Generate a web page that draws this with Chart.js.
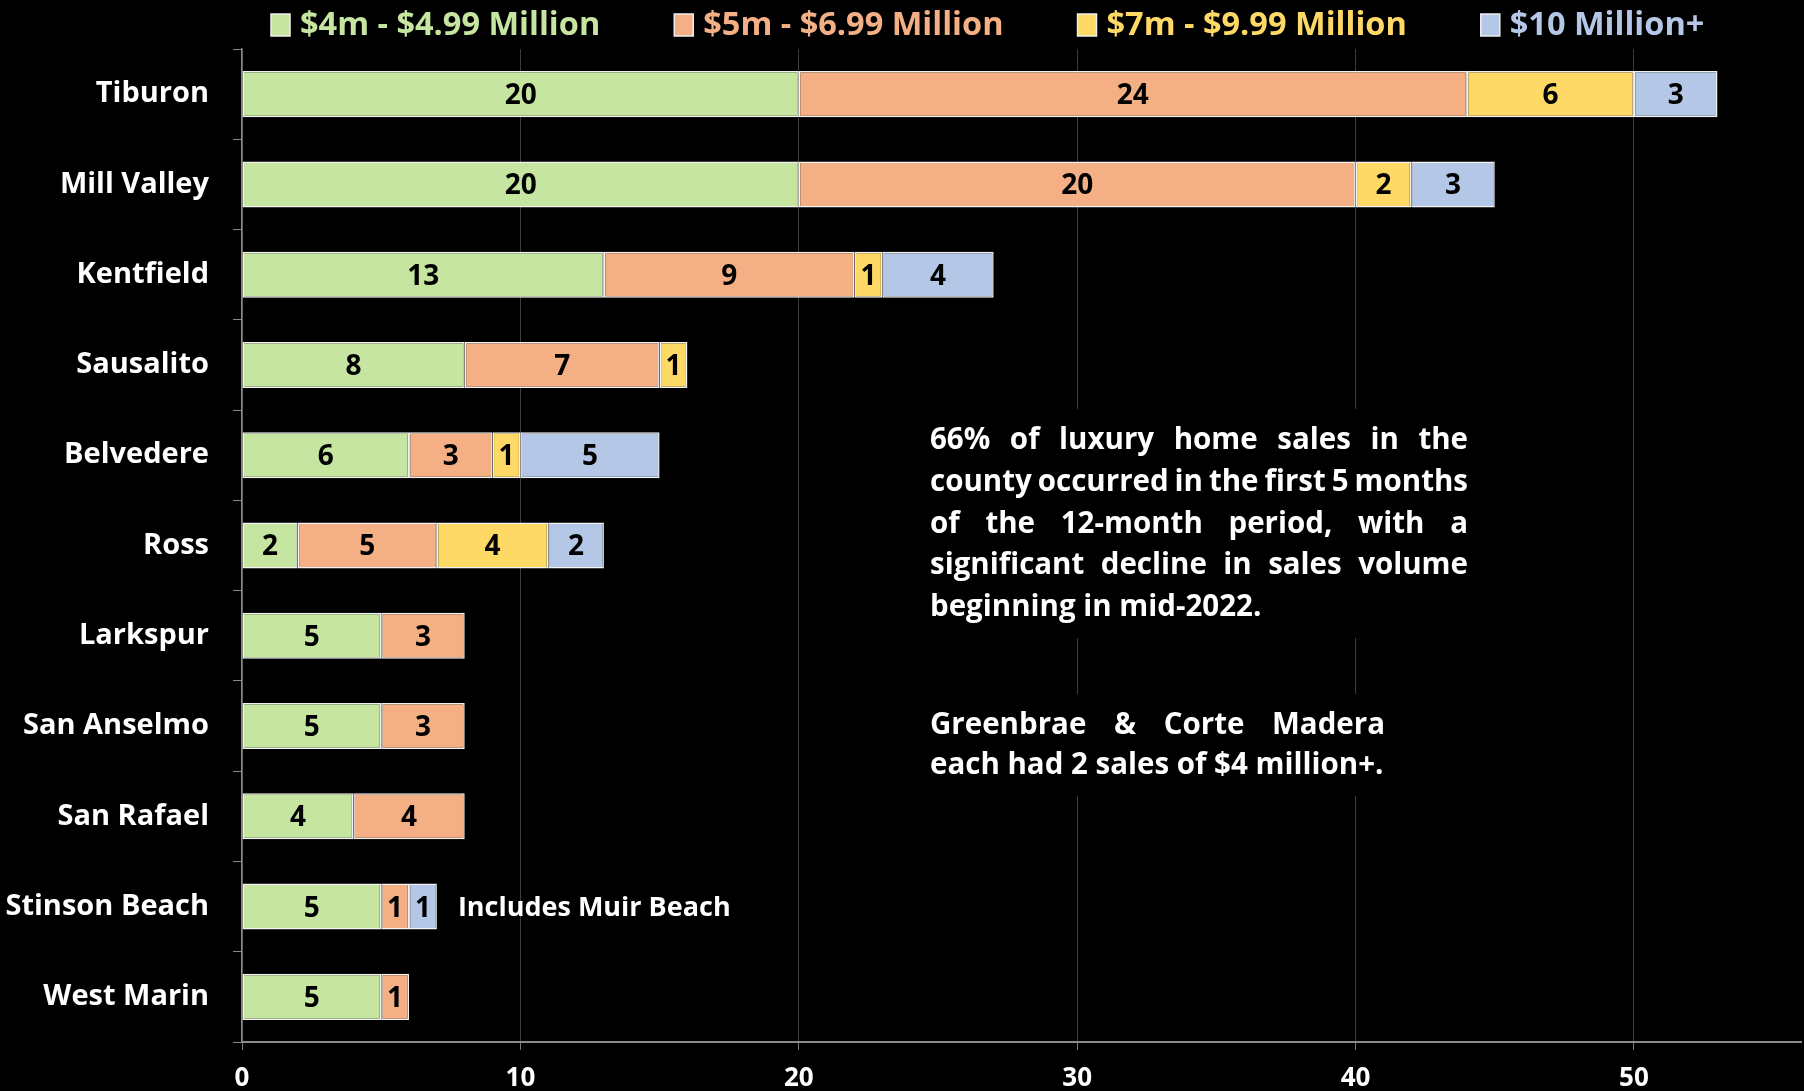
<!DOCTYPE html>
<html>
<head>
<meta charset="utf-8">
<script src="https://cdn.jsdelivr.net/npm/chart.js@4.4.0/dist/chart.umd.min.js"></script>
<style>
    html, body { margin: 0; padding: 0; background: #000; }
</style>
</head>
<body>
<canvas id="myChart" width="1804" height="1091"></canvas>
<script>
const towns = ['Tiburon', 'Mill Valley', 'Kentfield', 'Sausalito', 'Belvedere', 'Ross',
    'Larkspur', 'San Anselmo', 'San Rafael', 'Stinson Beach', 'West Marin'];
const sales4m  = [20, 20, 13, 8, 6, 2, 5, 5, 4, 5, 5];
const sales5m  = [24, 20, 9, 7, 3, 5, 3, 3, 4, 1, 1];
const sales7m  = [6, 2, 1, 1, 1, 4, 0, 0, 0, 0, 0];
const sales10m = [3, 3, 4, 0, 5, 2, 0, 0, 0, 1, 0];
const seriesNames = ['$4m - $4.99 Million', '$5m - $6.99 Million', '$7m - $9.99 Million', '$10 Million+'];
const seriesColors = ['#C5E5A0', '#F4B084', '#FFD966', '#B4C7E7'];
const xTicks = [0, 10, 20, 30, 40, 50];

const noteLines = [
    '66% of luxury home sales in the',
    'county occurred in the first 5 months',
    'of the 12-month period, with a',
    'significant decline in sales volume',
    'beginning in mid-2022.'
];
const noteLines2 = ['Greenbrae & Corte Madera', 'each had 2 sales of $4 million+.'];
const stinsonNote = 'Includes Muir Beach';

const FONT = '"Open Sans", Lato, sans-serif';

function justifyLine(ctx, text, x, y, width, justify) {
    if (!justify) { ctx.fillText(text, x, y); return; }
    const words = text.split(' ');
    const used = words.reduce((s, w) => s + ctx.measureText(w).width, 0);
    const gap = (width - used) / (words.length - 1);
    let cx = x;
    words.forEach(w => { ctx.fillText(w, cx, y); cx += ctx.measureText(w).width + gap; });
}

const valueLabels = {
    id: 'valueLabels',
    afterDatasetsDraw(chart) {
        const ctx = chart.ctx;
        ctx.save();
        ctx.font = 'bold 28px ' + FONT;
        ctx.fillStyle = '#000';
        ctx.textAlign = 'center';
        ctx.textBaseline = 'middle';
        chart.data.datasets.forEach((ds, i) => {
            chart.getDatasetMeta(i).data.forEach((bar, j) => {
                if (ds.data[j] > 0) ctx.fillText(ds.data[j], (bar.x + bar.base) / 2, bar.y + 2);
            });
        });
        // note next to Stinson Beach
        const idx = towns.indexOf('Stinson Beach');
        const total = sales4m[idx] + sales5m[idx] + sales7m[idx] + sales10m[idx];
        const y = chart.getDatasetMeta(0).data[idx].y;
        ctx.fillStyle = '#fff';
        ctx.textAlign = 'left';
        ctx.font = 'bold 27px ' + FONT;
        ctx.fillText(stinsonNote, chart.scales.x.getPixelForValue(total) + 21, y + 2);
        ctx.restore();
    }
};

const notes = {
    id: 'notes',
    beforeDatasetsDraw(chart) {
        const ctx = chart.ctx;
        ctx.save();
        ctx.fillStyle = '#000';
        ctx.fillRect(915, 409, 570, 229);
        ctx.fillRect(915, 694, 570, 102);
        ctx.font = 'bold 28px ' + FONT;
        // size so the longest line just about fills the box
        const fit = 1.02 * 538 / ctx.measureText(noteLines[1]).width;
        ctx.font = 'bold ' + (28 * fit).toFixed(1) + 'px ' + FONT;
        ctx.fillStyle = '#fff';
        ctx.textBaseline = 'middle';
        ctx.textAlign = 'left';
        noteLines.forEach((t, i) => justifyLine(ctx, t, 930, 441 + i * 41.6, 538, i < noteLines.length - 1));
        noteLines2.forEach((t, i) => justifyLine(ctx, t, 930, 726 + i * 40, 455, i === 0));
        ctx.restore();
    }
};

const topLegend = {
    id: 'topLegend',
    afterDraw(chart) {
        const ctx = chart.ctx;
        ctx.save();
        ctx.font = 'bold 32.5px ' + FONT;
        ctx.textBaseline = 'middle';
        let x = 271;
        seriesNames.forEach((name, i) => {
            ctx.fillStyle = seriesColors[i];
            ctx.fillRect(x, 14, 19, 22);
            ctx.strokeStyle = '#eee';
            ctx.lineWidth = 1.5;
            ctx.strokeRect(x, 14, 19, 22);
            ctx.fillText(name, x + 29, 26);
            x += 29 + ctx.measureText(name).width + 74;
        });
        ctx.restore();
    }
};

const ctx = document.getElementById('myChart').getContext('2d');
new Chart(ctx, {
    type: 'bar',
    data: {
        labels: towns,
        datasets: [sales4m, sales5m, sales7m, sales10m].map((d, i) => ({
            label: seriesNames[i],
            data: d,
            backgroundColor: seriesColors[i],
            borderColor: '#f2f2f2',
            borderWidth: 1.5,
            borderSkipped: false,
            barPercentage: 0.51,
            categoryPercentage: 1
        }))
    },
    options: {
        indexAxis: 'y',
        responsive: false,
        animation: false,
        layout: { padding: { top: 49, right: 3, left: 0, bottom: 0 } },
        plugins: { legend: { display: false }, tooltip: { enabled: false } },
        scales: {
            x: {
                stacked: true,
                min: 0,
                max: 56,
                afterBuildTicks: s => { s.ticks = xTicks.map(v => ({ value: v })); },
                afterFit: s => { s.height = 49; },
                grid: { color: '#3c3c3c', tickColor: '#777', tickLength: 8, lineWidth: 1 },
                border: { color: '#8a8a8a', width: 2 },
                ticks: { color: '#fff', font: { family: FONT, size: 26, weight: 'bold' }, padding: 13 }
            },
            y: {
                stacked: true,
                afterFit: s => { s.width = 242; },
                grid: { drawOnChartArea: false, color: '#8a8a8a', tickLength: 9 },
                border: { color: '#8a8a8a', width: 1.5 },
                ticks: { color: '#fff', font: { family: FONT, size: 29, weight: 'bold' }, padding: 24 }
            }
        }
    },
    plugins: [notes, valueLabels, topLegend]
});
</script>
</body>
</html>
